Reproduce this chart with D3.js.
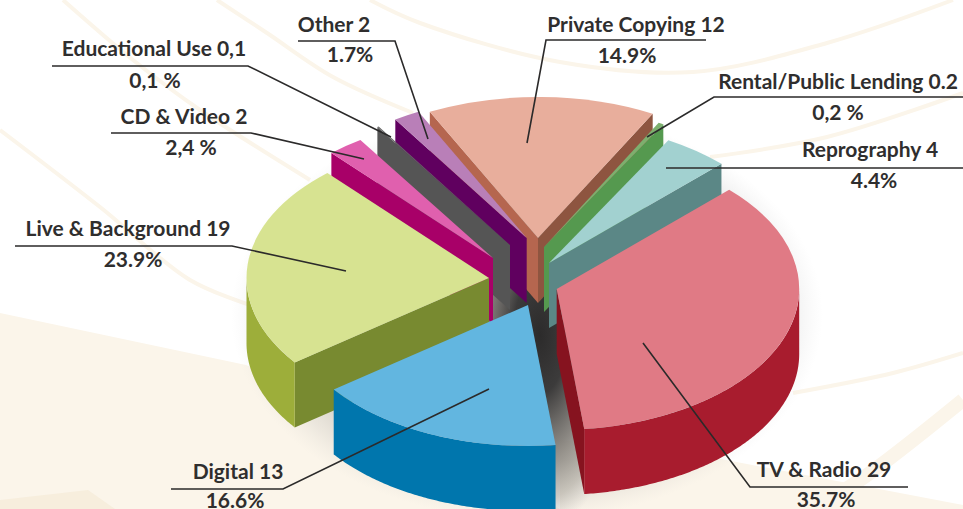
<!DOCTYPE html>
<html><head><meta charset="utf-8">
<script src="https://cdn.jsdelivr.net/npm/d3@7/dist/d3.min.js"></script>
<style>html,body{margin:0;padding:0;background:#fff}svg{display:block}
text{font-family:"Lato","Open Sans",sans-serif;font-weight:700;fill:#2f2e2e;font-size:21px}</style>
</head><body><svg id="c" width="963" height="509"></svg>
<script>
// ---- data ----
const categories = ["Private Copying 12","Rental/Public Lending 0.2","Reprography 4","TV & Radio 29","Digital 13","Live & Background 19","CD & Video 2","Educational Use 0,1","Other 2"];
const percentLabels = ["14.9%","0,2 %","4.4%","35.7%","16.6%","23.9%","2,4 %","0,1 %","1.7%"];
// slice sizes as drawn in the picture (share of the full turn)
const shares = [15.2,0.35,4.4,35.6,16.6,23.6,2.4,0.1,1.75];
// ---- styles ----
const topColors   = ["#E8AE9C","#7DAF6E","#A2D1D0","#E07A85","#62B6E0","#D7E391","#E060AE","#666666","#B97FB8"];
const arcColors   = ["#B5664F","#55994F","#5B8786","#A81C2E","#0076AD","#9DAE3A","#A80068","#555555","#60005F"];
const startColors = ["#B5664F","#55994F","#5B8786","#86131F","#0076AD","#788A30","#A80068","#555555","#60005F"];
const endColors   = ["#8E5540","#55994F","#5B8786","#86131F","#0076AD","#788A30","#A80068","#555555","#60005F"];
// ---- layout: where each exploded slice's apex sits, and label placement ----
const apexX = [538,544,549,556.7,528,489,493,510,526.7];
const apexY = [238,247,263,289,305,278,258,245,238];
const leaders = [
 [[706,40],[546,40],[527,143]],
 [[963,97],[714,97],[647,137]],
 [[963,168],[666,168]],
 [[908,487],[750,487],[643,343]],
 [[171,489],[283,489],[489,389]],
 [[15,246],[232,246],[346,271]],
 [[111,133],[251,133],[364,159]],
 [[52,66],[248,66],[391,137]],
 [[298,41],[395,41],[428,139]]];
const labelPos = [[636,32,627,63],[838,89,838,120],[870,157,874,188],[824,477,826,507],[238,479,235,508],[128,236,133,267],[184,124,191,155],[154,56,155,88],[334,32,350,62]];

const rx = 242.5, ry = 141, depth = 65, startDeg = -26.5;
const svg = d3.select("#c");
const defs = svg.append("defs");
const bg = svg.append("g");
const cream = "#FBF5EA";

// background sweep
const curve = d3.line().curve(d3.curveCatmullRom);
bg.append("path").attr("fill",cream).attr("d",
  "M0,313L246,365L420,440L560,509L0,509Z");
bg.append("path").attr("fill",cream).attr("d","M560,440L700,455L963,505V509H560Z");
bg.append("path").attr("fill","#F7EEDD").attr("d","M0,500L88,490L115,509H0Z");
[
 [[217,0],[267,33],[333,77],[413,113]],
 [[63,0],[133,60],[200,110],[310,180]],
 [[0,130],[100,207],[190,280],[250,305]],
 [[370,0],[420,23],[560,62],[693,72],[827,43],[953,0]],
 [[710,157],[827,137],[963,93]],
 [[793,393],[893,373],[963,353]],
].forEach(p=>bg.append("path").attr("d",curve(p)).attr("fill","none").attr("stroke",cream).attr("stroke-width",4));
bg.append("path").attr("d",curve([[963,400],[860,480],[810,509]])).attr("fill","none").attr("stroke",cream).attr("stroke-width",14);

// shadows
const g1 = defs.append("radialGradient").attr("id","halo");
[[0,"#555",.5],[.72,"#777",.38],[.9,"#999",.14],[1,"#bbb",0]].forEach(s=>g1.append("stop").attr("offset",s[0]).attr("stop-color",s[1]).attr("stop-opacity",s[2]));
const g2 = defs.append("radialGradient").attr("id","core");
[[0,"#2c2b2b",1],[.3,"#3c3b3b",1],[.6,"#807c76",.85],[.85,"#a9a59c",.5],[1,"#bbb",0]].forEach(s=>g2.append("stop").attr("offset",s[0]).attr("stop-color",s[1]).attr("stop-opacity",s[2]));
bg.append("ellipse").attr("cx",527).attr("cy",315).attr("rx",296).attr("ry",205).attr("fill","url(#halo)");
bg.append("ellipse").attr("cx",540).attr("cy",335).attr("rx",90).attr("ry",195).attr("fill","url(#core)");

// slices
const pie = d3.pie().sort(null).value(d=>d).startAngle(startDeg*Math.PI/180).endAngle((startDeg+360)*Math.PI/180);
const arcs = pie(shares).map((a,i)=>({...a,i,ax:apexX[i],ay:apexY[i]}));
const topArc = d3.arc().innerRadius(0).outerRadius(rx);
const px = a => rx*Math.sin(a), py = a => -ry*Math.cos(a);
const poly = d3.line();
const wallRadial = (d,a) => poly([[0,0],[px(a),py(a)],[px(a),py(a)+depth],[0,depth]])+"Z";
function wallOuter(d){
  const a0 = Math.max(d.startAngle,Math.PI/2), a1 = Math.min(d.endAngle,3*Math.PI/2);
  if(a1<=a0) return null;
  const t = d3.range(a0,a1,0.01).concat([a1]);
  const up = t.map(a=>[px(a),py(a)]), dn = t.slice().reverse().map(a=>[px(a),py(a)+depth]);
  return poly(up.concat(dn))+"Z";
}
const order = arcs.slice().sort((a,b)=>a.ay-b.ay);
const gs = svg.append("g").selectAll("g").data(order).join("g")
  .attr("transform",d=>`translate(${d.ax},${d.ay})`);
gs.filter(d=>Math.sin(d.startAngle)<0).append("path").attr("d",d=>wallRadial(d,d.startAngle)).attr("fill",d=>startColors[d.i]);
gs.filter(d=>Math.sin(d.endAngle)>0).append("path").attr("d",d=>wallRadial(d,d.endAngle)).attr("fill",d=>endColors[d.i]);
gs.filter(d=>wallOuter(d)).append("path").attr("d",wallOuter).attr("fill",d=>arcColors[d.i]);
gs.append("path").attr("d",d=>topArc(d)).attr("transform",`scale(1,${ry/rx})`).attr("fill",d=>topColors[d.i]);

// leaders and labels
svg.append("g").selectAll("path").data(leaders).join("path")
  .attr("d",d=>poly(d)).attr("fill","none").attr("stroke","#2b2a2a").attr("stroke-width",1.6);
const lb = svg.append("g");
categories.forEach((c,i)=>{
  const p = labelPos[i];
  lb.append("text").attr("x",p[0]).attr("y",p[1]).attr("text-anchor","middle").text(c);
  lb.append("text").attr("x",p[2]).attr("y",p[3]).attr("text-anchor","middle").text(percentLabels[i]);
});
</script></body></html>
